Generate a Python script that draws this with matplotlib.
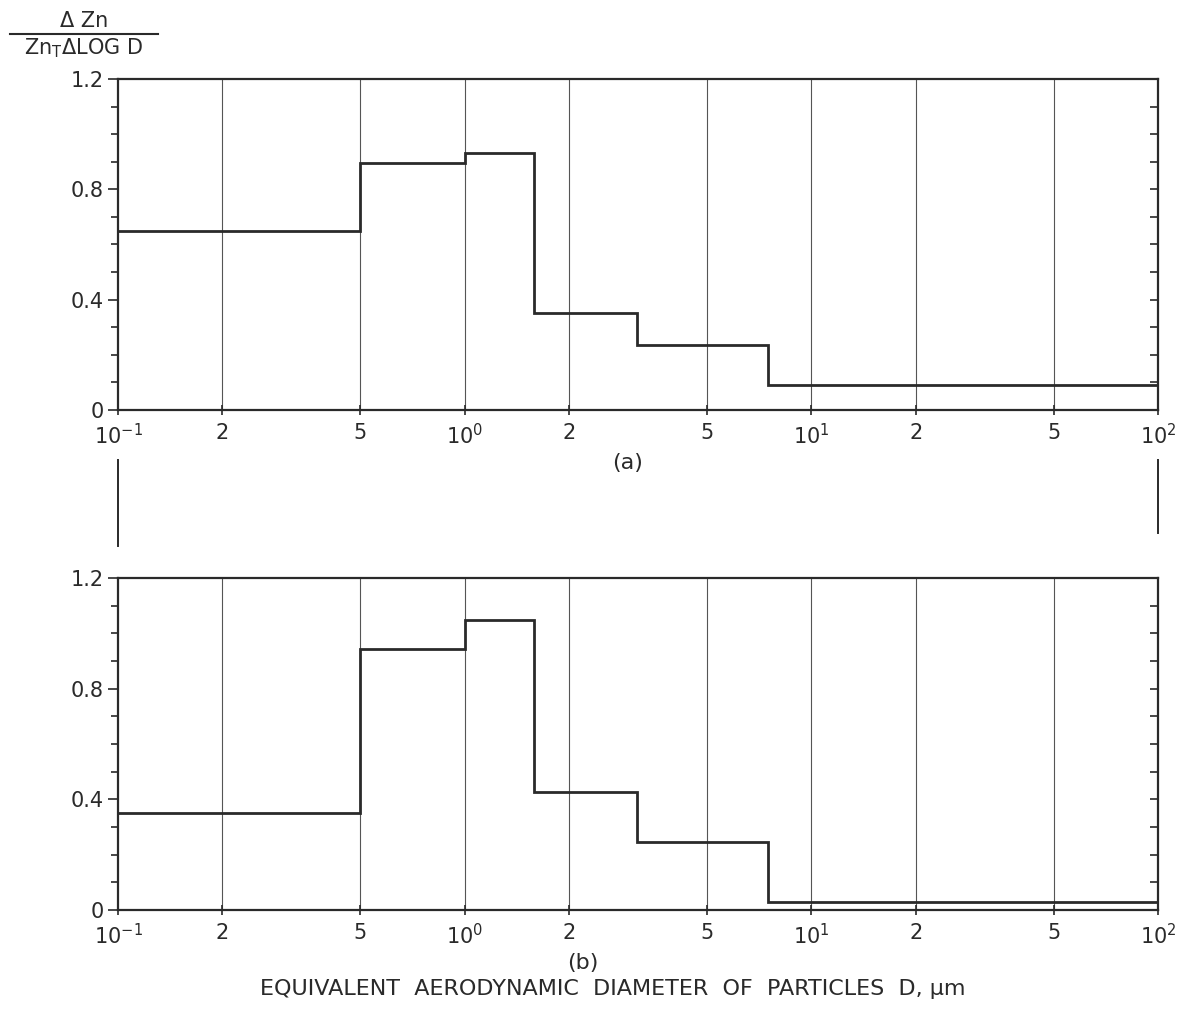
import matplotlib
matplotlib.use("Agg")
import matplotlib.pyplot as plt
from matplotlib.lines import Line2D
from matplotlib.ticker import FixedLocator, FixedFormatter, MultipleLocator

# ---- data ----
edges = [0.1, 0.5, 1.0, 1.58, 3.15, 7.5, 100.0]
values_a = [0.65, 0.895, 0.93, 0.35, 0.235, 0.09]
values_b = [0.35, 0.945, 1.05, 0.425, 0.245, 0.028]
xtick_vals = [0.1, 0.2, 0.5, 1, 2, 5, 10, 20, 50, 100]
xtick_labels = [r"$10^{-1}$", "2", "5", r"$10^{0}$", "2", "5", r"$10^{1}$", "2", "5", r"$10^{2}$"]
grid_vals = [0.2, 0.5, 1, 2, 5, 10, 20, 50]
ytick_vals = [0, 0.4, 0.8, 1.2]
ytick_labels = ["0", "0.4", "0.8", "1.2"]
panel_labels = ["(a)", "(b)"]
xlabel = "EQUIVALENT  AERODYNAMIC  DIAMETER  OF  PARTICLES  D, μm"

plt.rcParams['font.family'] = ['DejaVu Sans']
plt.rcParams['mathtext.fontset'] = 'dejavusans'

W, H = 1191, 1023
fig = plt.figure(figsize=(W / 100, H / 100), dpi=100)

ink = "#2a2a2a"

def px_rect(left, top, right, bottom):
    return [left / W, 1 - bottom / H, (right - left) / W, (bottom - top) / H]

ax_a = fig.add_axes(px_rect(118, 79, 1158, 410))
ax_b = fig.add_axes(px_rect(118, 578, 1158, 910))

for ax, vals in [(ax_a, values_a), (ax_b, values_b)]:
    ax.set_xscale("log")
    ax.set_xlim(0.1, 100)
    ax.set_ylim(0, 1.2)
    for g in grid_vals:
        ax.axvline(g, color="#555555", lw=0.8, zorder=1)
    ax.stairs(vals, edges, baseline=None, color=ink, lw=2.0, zorder=3)
    for s in ax.spines.values():
        s.set_color(ink)
        s.set_linewidth(1.6)
    ax.xaxis.set_major_locator(FixedLocator(xtick_vals))
    ax.xaxis.set_major_formatter(FixedFormatter(xtick_labels))
    ax.xaxis.set_minor_locator(FixedLocator([]))
    ax.tick_params(axis="x", which="major", direction="inout", length=7, width=1.2,
                   color=ink, labelsize=15, labelcolor=ink, pad=6)
    ax.yaxis.set_major_locator(FixedLocator(ytick_vals))
    ax.yaxis.set_major_formatter(FixedFormatter(ytick_labels))
    ax.yaxis.set_minor_locator(MultipleLocator(0.1))
    ax.tick_params(axis="y", which="major", direction="out", length=7, width=1.2,
                   color=ink, labelsize=15, labelcolor=ink, pad=3)
    ax.tick_params(axis="y", which="minor", direction="out", length=5, width=1.2, color=ink)
    # right-side inward ticks
    axr = ax.twinx()
    axr.set_ylim(0, 1.2)
    axr.yaxis.set_major_locator(FixedLocator([]))
    axr.yaxis.set_minor_locator(MultipleLocator(0.1))
    axr.tick_params(axis="y", which="minor", direction="in", length=6, width=1.2, color=ink)
    for s in axr.spines.values():
        s.set_visible(False)

# panel labels
fig.text(628 / W, 1 - 463 / H, panel_labels[0], ha="center", va="center", fontsize=16, color=ink)
fig.text(583 / W, 1 - 963 / H, panel_labels[1], ha="center", va="center", fontsize=16, color=ink)

# x label
fig.text(613 / W, 1 - 989 / H, xlabel, ha="center", va="center", fontsize=16, color=ink)

# y label (fraction)
fig.text(84 / W, 1 - 21 / H, "Δ Zn", ha="center", va="center", fontsize=15, color=ink)
fig.add_artist(Line2D([10 / W, 158 / W], [1 - 34 / H, 1 - 34 / H], color=ink, lw=1.5,
                      transform=fig.transFigure))
fig.text(84 / W, 1 - 48 / H, r"Zn$_\mathregular{T}$ΔLOG D", ha="center", va="center",
         fontsize=15, color=ink)

# connecting vertical marks between panels
fig.add_artist(Line2D([118 / W, 118 / W], [1 - 460 / H, 1 - 546 / H], color=ink, lw=1.4,
                      transform=fig.transFigure))
fig.add_artist(Line2D([1158 / W, 1158 / W], [1 - 460 / H, 1 - 533 / H], color=ink, lw=1.4,
                      transform=fig.transFigure))

fig.savefig("out.png", dpi=100)
